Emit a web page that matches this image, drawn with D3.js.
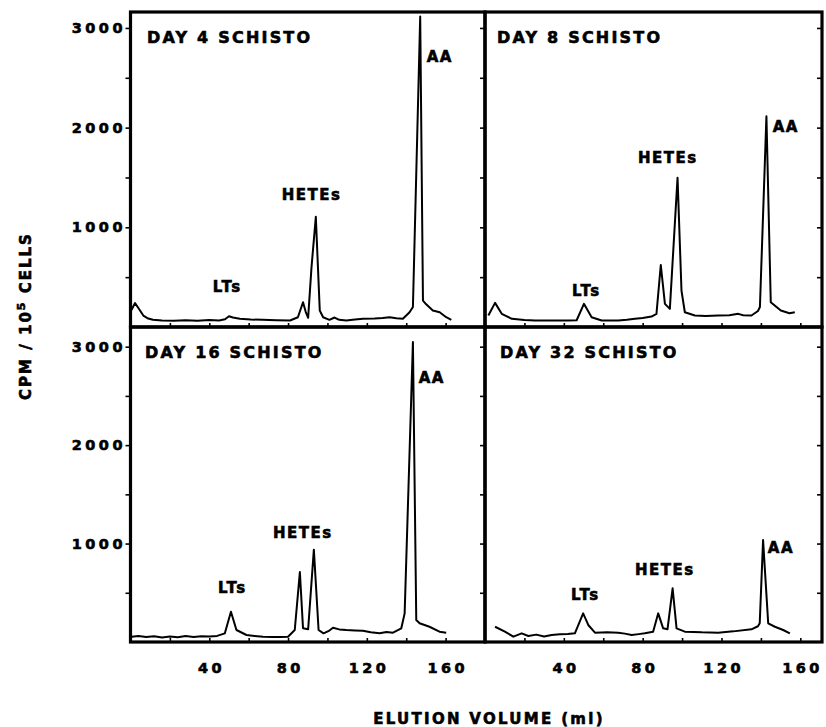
<!DOCTYPE html>
<html>
<head>
<meta charset="utf-8">
<style>
body { margin: 0; background: #fff; }
svg text { font-family: "DejaVu Sans", sans-serif; font-weight: bold; fill: #000; stroke: #000; stroke-width: 0.6px; }
</style>
</head>
<body>
<svg id="chart" width="826" height="727"></svg>
<script src="https://cdn.jsdelivr.net/npm/d3@7"></script>
<script>
// elution volume (ml), cpm / 10^5 cells
const day4 = [[0.5,170],[2.3,240],[4,190],[6.5,115],[9,85],[11.4,72],[16,65],[22,62],[28,68],[34,62],[40,70],[45,66],[48,78],[50,108],[52,95],[55.5,82],[61,75],[67,72],[74,68],[81,65],[85,98],[87.6,248],[89,150],[90.2,92],[91.9,598],[94.1,1105],[96.1,165],[97.8,98],[101,72],[103.6,95],[106,72],[109.6,65],[114,75],[118,82],[124,85],[128,90],[131.6,98],[135,88],[138.3,82],[141.7,148],[143.4,200],[147.1,3115],[148.5,265],[150,230],[153.5,165],[157,148],[160.3,98],[162.9,72]];
const day8 = [[1.7,115],[5.1,242],[8.5,132],[13.6,82],[20,70],[25.4,65],[32,66],[38,64],[42.2,65],[46.5,68],[50.2,232],[54.1,98],[59.2,65],[67.6,65],[72,72],[76.1,82],[80,90],[84.5,105],[87,132],[89.2,622],[91.3,232],[93.8,182],[97.7,1498],[99.7,365],[101.4,148],[106.5,115],[112,110],[118.3,115],[124,118],[128.5,132],[131,118],[135.2,115],[138.5,160],[139.5,200],[142.8,2115],[145,248],[150.1,165],[154.5,138],[157.2,148]];
const day16 = [[0.6,54],[4,62],[8,50],[12,58],[16,45],[20,55],[24,48],[28,60],[32,52],[36,58],[40,55],[44,62],[47.9,88],[51,307],[53.8,122],[58.9,71],[63,62],[67.3,54],[72,50],[76,52],[80,54],[83.4,122],[86,710],[87.6,139],[90.2,129],[93.1,938],[95.5,122],[98,88],[100.5,110],[102.8,145],[106,128],[109.6,122],[114,118],[118,115],[122,100],[126.5,88],[130,102],[133.3,95],[137.5,139],[139.2,291],[143.4,3048],[145.1,223],[146.8,190],[151.8,155],[156.9,105],[160.3,95]];
const day32 = [[5.1,155],[10.1,105],[14.4,54],[18.6,88],[22,61],[26,75],[30,55],[33.8,71],[38,78],[42,82],[45.6,88],[49.8,291],[52.4,173],[55.8,95],[62,98],[67.6,95],[71,85],[74.4,71],[78,80],[81.1,88],[85.3,105],[87.9,291],[90.4,139],[92.6,129],[95.2,545],[97.2,139],[101.4,105],[110,98],[118.3,95],[126,108],[135.2,129],[138.5,160],[139.4,190],[141.1,1035],[143.7,190],[147.1,155],[151.3,122],[154.7,88]];

// text, volume, cpm
const day4Labels = [["DAY 4 SCHISTO",8.4,2850],["LTs",41.8,347],["HETEs",76.8,1271],["AA",150.4,2658]];
const day8Labels = [["DAY 8 SCHISTO",6.1,2850],["LTs",44.1,316],["HETEs",77.6,1643],["AA",146,1954]];
const day16Labels = [["DAY 16 SCHISTO",7.4,2885],["LTs",44.4,498],["HETEs",72.3,1056],["AA",146.3,2631]];
const day32Labels = [["DAY 32 SCHISTO",7.6,2885],["LTs",43.6,427],["HETEs",76.1,681],["AA",143.5,904]];

const xTicks = [20,40,60,80,100,120,140,160];
const xTickLabels = [40,80,120,160];
const yTicks = [500,1000,1500,2000,2500,3000];
const yTickLabels = [1000,2000,3000];
const xMax = [180,171];
const yMax = [3160,3200];

const colX = [130.5,485,822];
const rowY = [12,327,642];

const panels = [
  {data: day4, labels: day4Labels, col: 0, row: 0},
  {data: day8, labels: day8Labels, col: 1, row: 0},
  {data: day16, labels: day16Labels, col: 0, row: 1},
  {data: day32, labels: day32Labels, col: 1, row: 1}
];

const svg = d3.select("#chart");

panels.forEach(p => {
  const x = d3.scaleLinear().domain([0, xMax[p.col]]).range([colX[p.col], colX[p.col+1]]);
  const y = d3.scaleLinear().domain([0, yMax[p.row]]).range([rowY[p.row+1], rowY[p.row]]);
  const g = svg.append("g");

  // x ticks point inward
  g.append("g")
      .attr("transform", `translate(0,${y(0)})`)
      .call(d3.axisBottom(x).tickValues(xTicks).tickSize(-4)
        .tickFormat(d => p.row == 1 && xTickLabels.includes(d) ? d : ""))
      .call(a => a.select(".domain").remove())
      .call(a => a.selectAll("line").attr("stroke-width", 1.6))
      .call(a => a.selectAll("text")
        .attr("y", 31).attr("dy", 0).attr("dx", 1.7)
        .style("font-size", "14.5px").style("letter-spacing", "3.5px"));

  g.append("g")
      .attr("transform", `translate(${x(0)},0)`)
      .call(d3.axisLeft(y).tickValues(yTicks).tickSize(5)
        .tickFormat(d => p.col == 0 && yTickLabels.includes(d) ? d : ""))
      .call(a => a.select(".domain").remove())
      .call(a => a.selectAll("line").attr("stroke-width", 1.6))
      .call(a => a.selectAll("text")
        .attr("dx", 3.5)
        .style("font-size", "14.5px").style("letter-spacing", "3.5px"));

  if (p.col == 1) {
    g.append("g")
        .attr("transform", `translate(${x.range()[1]},0)`)
        .call(d3.axisRight(y).tickValues(yTicks).tickSize(-5).tickFormat(""))
        .call(a => a.select(".domain").remove())
        .call(a => a.selectAll("line").attr("stroke-width", 1.6));
  }

  g.append("rect")
      .attr("x", x.range()[0]).attr("y", y.range()[1])
      .attr("width", x.range()[1] - x.range()[0])
      .attr("height", y.range()[0] - y.range()[1])
      .attr("fill", "none").attr("stroke", "#000").attr("stroke-width", 3.2);

  g.append("path")
      .datum(p.data)
      .attr("fill", "none")
      .attr("stroke", "#000")
      .attr("stroke-width", 2)
      .attr("stroke-linejoin", "round")
      .attr("d", d3.line().x(d => x(d[0])).y(d => y(d[1])));

  g.selectAll(".lbl")
    .data(p.labels)
    .join("text")
      .attr("class", "lbl")
      .attr("x", d => x(d[1]))
      .attr("y", d => y(d[2]))
      .style("font-size", (d, i) => i == 0 ? "16px" : "15px")
      .style("letter-spacing", (d, i) => i == 0 ? "2.2px" : "1.5px")
      .text(d => d[0]);
});

// axis titles
const yTitle = svg.append("text")
    .attr("transform", "translate(31,316) rotate(-90)")
    .attr("text-anchor", "middle")
    .style("font-size", "15px")
    .style("letter-spacing", "2px");
yTitle.append("tspan").text("CPM / 10");
yTitle.append("tspan").attr("dy", -6).style("font-size", "11px").text("5");
yTitle.append("tspan").attr("dy", 6).text(" CELLS");

svg.append("text")
    .attr("x", 489).attr("y", 724)
    .attr("text-anchor", "middle")
    .style("font-size", "15px")
    .style("letter-spacing", "2.3px")
    .text("ELUTION VOLUME (ml)");
</script>
</body>
</html>
